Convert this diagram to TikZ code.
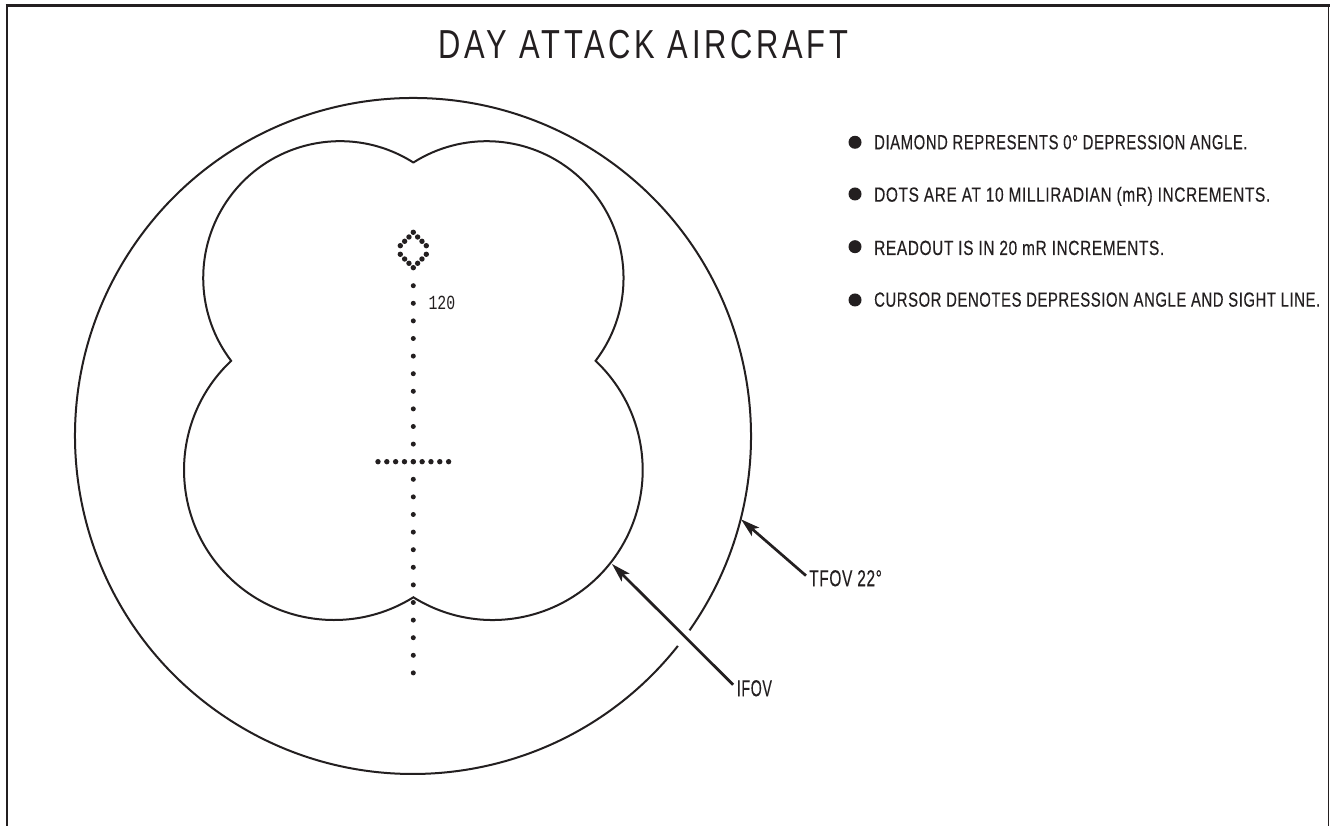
\documentclass[tikz,border=0pt]{standalone}
\usepackage{fontspec}
\usepackage{graphicx}
\setmainfont{Liberation Sans}
\newfontfamily\titlefont[LetterSpace=12]{Liberation Sans}
\newfontfamily\strokefont[FakeBold=0.35,LetterSpace=4]{Liberation Sans}
\newfontfamily\readoutfont{Liberation Mono}
\usetikzlibrary{arrows.meta}
\definecolor{ink}{HTML}{231F20}
\newcommand{\fitw}[2]{\resizebox{#1pt}{\height}{#2}}
\tikzset{
  x=1pt,y=1pt,
  frameline/.style={draw=ink,line width=2.5pt},
  contour/.style={draw=ink,line width=2pt,line join=miter},
  leader/.style={draw=ink,line width=2.7pt,-{Stealth[length=19pt,width=11pt,inset=4pt]}},
  dot/.style={circle,fill=ink,inner sep=0pt,minimum size=5pt},
  bulletdot/.style={circle,fill=ink,inner sep=0pt,minimum size=13pt},
  note/.style={anchor=base west,inner sep=0pt,text=ink,font=\strokefont\fontsize{20.5}{24}\selectfont},
  callout/.style={anchor=west,inner sep=0pt,text=ink,font=\strokefont\fontsize{23}{27}\selectfont},
  titletext/.style={anchor=base west,inner sep=0pt,text=ink,font=\titlefont\fontsize{40.5}{46}\selectfont},
}
\begin{document}
\begin{tikzpicture}
\useasboundingbox (0,0) rectangle (1330,826);
\fill[white] (0,0) rectangle (1330,826);
% frame (open at the bottom)
\draw[frameline,line width=2.4pt] (6.8,0) -- (6.8,821.9);
\draw[frameline,line width=2.7pt] (5.6,820.7) -- (1330,820.7);
\draw[frameline,line width=1.7pt] (1328.6,820.7) -- (1328.6,0);
% title
\node[titletext] (title) at (438.5,767.7) {\fitw{409.5}{DAY ATTACK AIRCRAFT}};
% total field of view, with its gap
\draw[contour] (413,390) ++(-35.1:338) arc[start angle=-35.1,end angle=321.6,radius=338];
% instantaneous field of view
\draw[contour] (413.3,663.5)
  arc[start angle=57.6,end angle=217.28,radius=136.8]
  arc[start angle=133.3,end angle=301.93,radius=150]
  arc[start angle=-121.93,end angle=46.7,radius=150]
  arc[start angle=-37.28,end angle=122.4,radius=136.8] -- cycle;
% vertical dots
\foreach \n in {0,...,22} \node[dot] (v\n) at (413.3,826-285.7-17.6*\n) {};
% cursor dots
\foreach \n in {-4,...,4} \node[dot,minimum size=5.4pt] (h\n) at (413.3+8.83*\n,826-461.7) {};
% diamond
\foreach \dx/\yy [count=\i] in {0/232.3,-4.33/237,-8.67/241.3,-13/245.7,4.33/237,8.67/241.3,13/245.7,-13/254.3,-8.67/259,-4.33/263.3,0/267.7,4.33/263.3,8.67/259,13/254.3}
  \node[dot,minimum size=5.4pt] (d\i) at (413.3+\dx,826-\yy) {};
% readout
\node[anchor=base west,inner sep=0pt,text=ink,font=\readoutfont\fontsize{20}{22}\selectfont] (readout) at (428.3,516.7) {\fitw{26.7}{120}};
% notes
\node[bulletdot] (b1) at (855,683.7) {};
\node[bulletdot] (b2) at (855,632) {};
\node[bulletdot] (b3) at (855,579.3) {};
\node[bulletdot] (b4) at (855,526) {};
\node[note] (n1) at (874,676.7) {\fitw{373.3}{DIAMOND REPRESENTS 0° DEPRESSION ANGLE.}};
\node[note] (n2) at (874,624.3) {\fitw{396}{DOTS ARE AT 10 MILLIRADIAN (mR) INCREMENTS.}};
\node[note] (n3) at (874,571) {\fitw{290}{READOUT IS IN 20 mR INCREMENTS.}};
\node[note] (n4) at (874,519.3) {\fitw{446}{CURSOR DENOTES DEPRESSION ANGLE AND SIGHT LINE.}};
% callouts
\node[callout] (ifov) at (736.7,137.7) {\fitw{35}{IFOV}};
\node[callout] (tfov) at (809,247.7) {\fitw{72.7}{TFOV 22°}};
\coordinate (ifovtip) at (612,262);
\coordinate (tfovtip) at (741,306.7);
\draw[leader,shorten <=5pt] (ifov.west) -- (ifovtip);
\draw[leader,shorten <=4pt] (tfov.west) -- (tfovtip);
\end{tikzpicture}
\end{document}
